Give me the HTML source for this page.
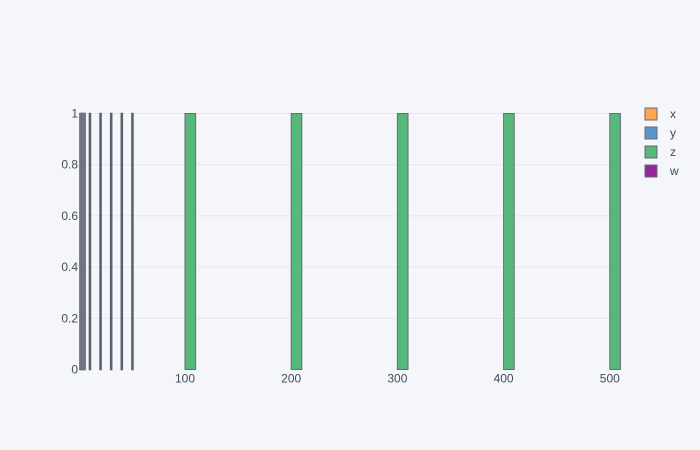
<!DOCTYPE html>
<html><head><meta charset="utf-8"><style>
html,body{margin:0;width:700px;height:450px;overflow:hidden;background:#f5f6f9;font-family:"Liberation Sans",sans-serif}
svg{display:block}
svg text{font-family:"Liberation Sans",sans-serif;font-size:12px;fill:#444b59}
</style></head><body>
<svg width="700" height="450">
<rect width="700" height="450" fill="#f5f6f9"/>
<g id="grid"></g>
<g id="bars"></g>
<g id="axes"></g>
<g id="legend"></g>
</svg>
<script>
const seriesNames=["x","y","z","w"];
const seriesColors=["#ffa352","#5b95c6","#57b87b","#96279a"];
const smallStarts=[1,2,3,4,5,10,20,30,40,50];
const smallHeights=[1,1,1,1,1,1,1,1,1,1];
const bigStarts=[100,200,300,400,500];
const bigHeights=[1,1,1,1,1];
const xTicks=[100,200,300,400,500];
const yTicks=[0,0.2,0.4,0.6,0.8,1];
const yTickLabels=["0","0.2","0.4","0.6","0.8","1"];
const NS="http://www.w3.org/2000/svg";
const L=80,R=620,T=113.5,B=369.5;
const xs=v=>78.8+v*1.062;
const ys=v=>B-(B-T)*v;
function mk(t,a,p){const e=document.createElementNS(NS,t);for(const k in a)e.setAttribute(k,a[k]);p.appendChild(e);return e;}
const grid=document.getElementById('grid'),bars=document.getElementById('bars'),axes=document.getElementById('axes'),leg=document.getElementById('legend');
yTicks.forEach((v,i)=>{
 if(v>0){const g=mk('line',{x1:L,x2:R,y1:ys(v),y2:ys(v),stroke:'#e3e6ea','stroke-width':1},grid);
 
 }
 const t=mk('text',{x:L-2,y:ys(v)+4,'text-anchor':'end'},axes);t.textContent=yTickLabels[i];
 
 
});
xTicks.forEach(v=>{
 const g=mk('line',{x1:xs(v),x2:xs(v),y1:T,y2:B,stroke:'#e3e6ea','stroke-width':1},grid);
 
 
 const t=mk('text',{x:xs(v),y:B+13,'text-anchor':'middle'},axes);t.textContent=v;
 
 
});
smallStarts.forEach((v,i)=>{
 const x0=xs(v),x1=xs(v+1);
 const light=v<10;
 const r=mk('rect',{x:x0,y:ys(smallHeights[i]),width:x1-x0,height:B-ys(smallHeights[i]),fill:light?'#8a909a':'#5b95c6',stroke:light?'#6f7580':'#5a6070','stroke-width':1.5},bars);
 
 
});
bigStarts.forEach((v,i)=>{
 const x0=xs(v),x1=xs(v+10);
 const r=mk('rect',{x:x0,y:ys(bigHeights[i]),width:x1-x0,height:B-ys(bigHeights[i]),fill:'#57b87b',stroke:'#666b75','stroke-width':1},bars);
 
 
});
seriesNames.forEach((n,i)=>{
 const y=114+i*19;
 const r=mk('rect',{x:645,y:y-6,width:12,height:12,fill:seriesColors[i],stroke:'#666b75','stroke-width':1},leg);
 
 
 const t=mk('text',{x:670,y:y+4},leg);t.textContent=n;
 
 
});
</script>
</body></html>
